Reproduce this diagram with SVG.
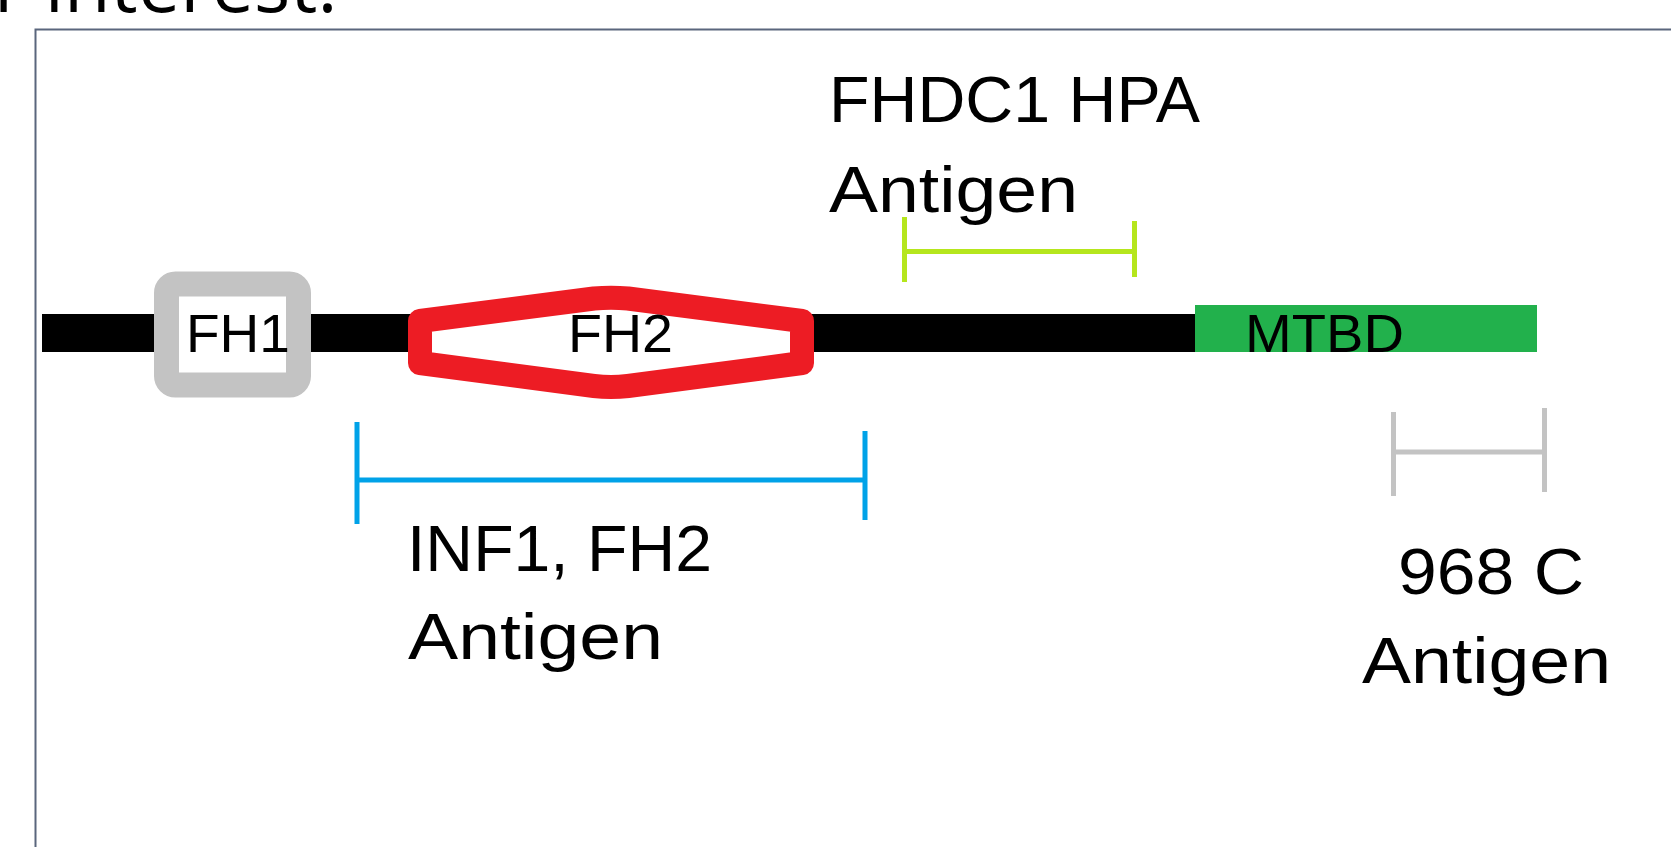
<svg xmlns="http://www.w3.org/2000/svg" width="1671" height="847" viewBox="0 0 1671 847">
<style>
  .lbl { font-family: "Liberation Sans", Arial, sans-serif; font-size: 64px; fill: #000; }
  .dom { font-family: "Liberation Sans", Arial, sans-serif; font-size: 53px; fill: #000; }
  .title { font-family: "Open Sans", "Liberation Sans", sans-serif; font-size: 76px; fill: #000; }
  .frame { fill: none; stroke: #5a667d; stroke-width: 2; }
  .span { fill: none; stroke-width: 5; stroke-linecap: butt; }
</style>
<rect x="0" y="0" width="1671" height="847" fill="#ffffff"/>
<text class="title" x="-6" y="12">r interest.</text>
<path class="frame" d="M35.5 847 V29.5 H1671"/>

<g id="backbone">
  <rect x="42" y="314" width="1153" height="38" fill="#000000"/>
</g>

<g id="fh1">
  <rect x="166.5" y="284" width="132" height="101" rx="9" ry="9" fill="#ffffff" stroke="#c3c3c3" stroke-width="25"/>
  <text class="dom" x="186" y="352" textLength="104" lengthAdjust="spacingAndGlyphs">FH1</text>
</g>

<g id="fh2">
  <path d="M420 321 L594 298.5 Q611 297 628 298.5 L802 321 L802 363 L628 386 Q611 388 594 386 L420 363 Z" fill="#ffffff" stroke="#ed1c24" stroke-width="24" stroke-linejoin="round"/>
  <text class="dom" x="568" y="352" textLength="105" lengthAdjust="spacingAndGlyphs">FH2</text>
</g>

<g id="mtbd">
  <rect x="1195" y="305" width="342" height="47" fill="#22b14c"/>
  <text class="dom" x="1245" y="352" textLength="159" lengthAdjust="spacingAndGlyphs">MTBD</text>
</g>

<g id="connectors">
  <g id="span-fhdc1" stroke="#b5e61d">
    <path class="span" d="M904.5 217 V282 M1134.5 221 V277 M904.5 251.5 H1134.5"/>
  </g>
  <g id="span-inf1" stroke="#00a2e8">
    <path class="span" d="M357 422 V524 M865 431 V520" stroke-width="4.5"/>
    <path class="span" d="M357 480 H865" stroke-width="4"/>
  </g>
  <g id="span-968c" stroke="#c3c3c3">
    <path class="span" d="M1393.5 412 V496 M1544.5 408 V492"/>
    <path class="span" d="M1393.5 452 H1544.5" stroke-width="4"/>
  </g>
</g>

<g id="label-fhdc1">
  <text class="lbl" x="829" y="122" textLength="371" lengthAdjust="spacingAndGlyphs">FHDC1 HPA</text>
  <text class="lbl" x="829" y="212" textLength="249" lengthAdjust="spacingAndGlyphs">Antigen</text>
</g>

<g id="label-inf1">
  <text class="lbl" x="407" y="571" textLength="305" lengthAdjust="spacingAndGlyphs">INF1, FH2</text>
  <text class="lbl" x="408" y="659" textLength="255" lengthAdjust="spacingAndGlyphs">Antigen</text>
</g>

<g id="label-968c">
  <text class="lbl" x="1398" y="594" textLength="186" lengthAdjust="spacingAndGlyphs">968 C</text>
  <text class="lbl" x="1362" y="683" textLength="249" lengthAdjust="spacingAndGlyphs">Antigen</text>
</g>
</svg>
